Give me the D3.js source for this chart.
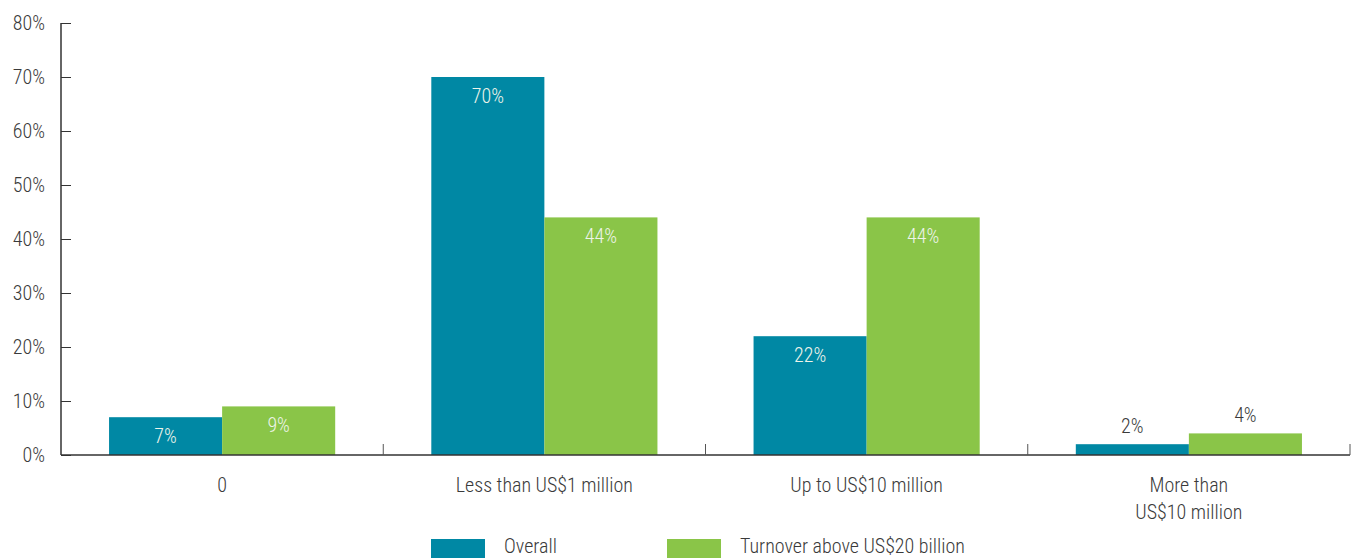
<!DOCTYPE html>
<html><head><meta charset="utf-8">
<script src="https://cdn.jsdelivr.net/npm/d3@7"></script>
<style>
body{margin:0;background:#fff;}
text{font-family:"Roboto Condensed",Roboto,sans-serif;font-weight:300;}
</style></head>
<body><svg id="c" width="1357" height="558"></svg>
<script>
const categories = [["0"], ["Less than US$1 million"], ["Up to US$10 million"], ["More than", "US$10 million"]];
const seriesNames = ["Overall", "Turnover above US$20 billion"];
const overall = [7, 70, 22, 2];
const turnover = [9, 44, 44, 4];
const yTicks = [0, 10, 20, 30, 40, 50, 60, 70, 80];
const colors = ["#0088a4", "#8ac548"];

(function () {
const svg = d3.select("#c");
const mLeft = 61, mRight = 1350, mTop = 23, mBottom = 455;
const fs = "20px";
const x = d3.scaleBand().domain(d3.range(categories.length)).range([mLeft, mRight]).padding(0);
const inner = d3.scaleBand().domain([0, 1]).range([0, x.bandwidth()]).paddingOuter(0.425).paddingInner(0);
const y = d3.scaleLinear().domain([0, 80]).range([mBottom, mTop]);
const series = [overall, turnover];

// y axis
const yAxis = svg.append("g").attr("transform", `translate(${mLeft},0)`)
  .call(d3.axisRight(y).tickValues(yTicks).tickSize(10).tickFormat(d => d + "%"));
yAxis.select(".domain").remove();
yAxis.selectAll(".tick line").attr("stroke", "#333");
yAxis.selectAll(".tick text").attr("x", -16).attr("text-anchor", "end").attr("fill", "#3a3a3a").style("font-size", fs);
svg.append("line").attr("x1", mLeft).attr("x2", mLeft).attr("y1", mTop).attr("y2", mBottom).attr("stroke", "#333").attr("stroke-width", 1.5);

// bars
series.forEach((vals, si) => {
  svg.append("g").selectAll("rect").data(vals).join("rect")
    .attr("x", (d, i) => x(i) + inner(si))
    .attr("width", inner.bandwidth())
    .attr("y", d => y(d))
    .attr("height", d => y(0) - y(d))
    .attr("fill", colors[si]);
  svg.append("g").selectAll("text").data(vals).join("text")
    .attr("x", (d, i) => x(i) + inner(si) + inner.bandwidth() / 2)
    .attr("y", d => (y(0) - y(d) > 30) ? y(d) + 26 : y(d) - 11)
    .attr("text-anchor", "middle")
    .attr("fill", d => (y(0) - y(d) > 30) ? "#eef4ea" : "#3a3a3a")
    .style("font-size", fs)
    .text(d => d + "%");
});

// x axis
svg.append("line").attr("x1", mLeft).attr("x2", mRight).attr("y1", mBottom).attr("y2", mBottom).attr("stroke", "#333").attr("stroke-width", 1.5);
const bounds = d3.range(1, categories.length + 1).map(i => x(i - 1) + x.bandwidth());
svg.append("g").selectAll("line").data(bounds).join("line")
  .attr("x1", d => d).attr("x2", d => d).attr("y1", mBottom - 11).attr("y2", mBottom)
  .attr("stroke", "#555");
const xl = svg.append("g").selectAll("text").data(categories).join("text")
  .attr("x", (d, i) => x(i) + x.bandwidth() / 2)
  .attr("y", 492)
  .attr("text-anchor", "middle")
  .attr("fill", "#3a3a3a")
  .style("font-size", fs);
xl.each(function(d) {
  const sel = d3.select(this);
  sel.selectAll("tspan").data(d).join("tspan")
    .attr("x", sel.attr("x"))
    .attr("dy", (t, j) => j === 0 ? 0 : 27)
    .text(t => t);
});

// legend
const legX = [431, 667];
seriesNames.forEach((n, i) => {
  svg.append("rect").attr("x", legX[i]).attr("y", 539).attr("width", 54).attr("height", 20).attr("fill", colors[i]);
  svg.append("text").attr("x", legX[i] + 73).attr("y", 553).attr("fill", "#3a3a3a").style("font-size", fs).text(n);
});
})();
</script></body></html>
